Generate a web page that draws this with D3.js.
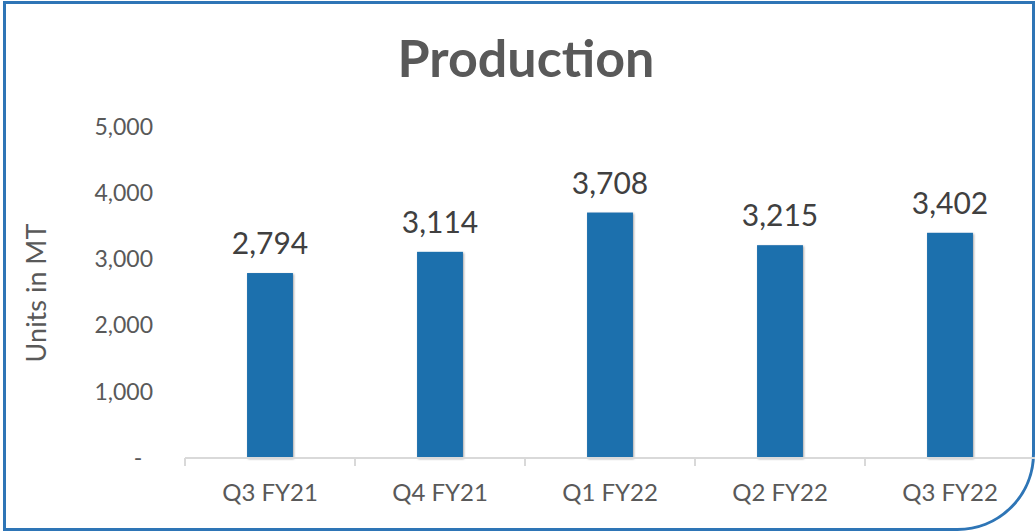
<!DOCTYPE html>
<html lang="en">
<head>
<meta charset="UTF-8">
<title>Production</title>
<script src="https://d3js.org/d3.v7.min.js"></script>
<style>
  body { margin: 0; background: #fff; }
  text { font-family: Lato, "Open Sans", sans-serif; }
</style>
</head>
<body>
<script>
    const width = 1036
    const height = 531
    const quarters = ['Q3 FY21', 'Q4 FY21', 'Q1 FY22', 'Q2 FY22', 'Q3 FY22']
    const production = [2794, 3114, 3708, 3215, 3402]
    const yTicks = [0, 1000, 2000, 3000, 4000, 5000]

    const svg = d3.select("body").append("svg")
        .attr("width", width)
        .attr("height", height)

    // soft shadow under the bars
    const defs = svg.append("defs")
    const f = defs.append("filter").attr("id", "shadow")
        .attr("x", "-20%").attr("y", "-20%").attr("width", "140%").attr("height", "140%")
    f.append("feDropShadow").attr("dx", 1).attr("dy", 1).attr("stdDeviation", 1.2)
        .attr("flood-color", "#000").attr("flood-opacity", 0.35)

    // frame with rounded bottom-right corner
    const r = 76
    svg.append("path")
        .attr("d", `M4.5,2.5 H1033.5 V${529.5 - r} A${r},${r} 0 0 1 ${1033.5 - r},529.5 H4.5 Z`)
        .attr("fill", "none")
        .attr("stroke", "#2e75b6")
        .attr("stroke-width", 3)

    const x = d3.scaleBand()
        .domain(quarters)
        .range([185, 1035])
        .paddingInner(0.73)
        .paddingOuter(0.365)
    const y = d3.scaleLinear()
        .domain([0, 5000])
        .range([458, 127])

    svg.append("text")
        .text("Production")
        .attr("x", 526)
        .attr("y", 77)
        .attr("text-anchor", "middle")
        .attr("font-size", 52)
        .attr("font-weight", "bold")
        .attr("fill", "#595959")

    svg.append("text")
        .text("Units in MT")
        .attr("transform", "translate(46,293) rotate(-90)")
        .attr("text-anchor", "middle")
        .attr("font-size", 27)
        .attr("fill", "#595959")

    // y axis labels only
    const yAxis = d3.axisLeft(y)
        .tickValues(yTicks)
        .tickSize(0)
        .tickPadding(0)
        .tickFormat(d => d === 0 ? "-" : d3.format(",")(d))
    const gy = svg.append("g").attr("transform", "translate(153,0)").call(yAxis)
    gy.select(".domain").remove()
    gy.selectAll("text")
        .attr("font-size", 23)
        .attr("fill", "#595959")
        .attr("font-family", "Lato, 'Open Sans', sans-serif")
    gy.selectAll(".tick").filter(d => d === 0).select("text")
        .attr("text-anchor", "middle").attr("dx", -15)

    // bars
    svg.append("g").selectAll("rect")
        .data(production)
        .join("rect")
        .attr("x", (d, i) => x(quarters[i]))
        .attr("y", d => y(d))
        .attr("width", x.bandwidth())
        .attr("height", d => y(0) - y(d))
        .attr("fill", "#1f6fad")
        .attr("filter", "url(#shadow)")

    // x axis
    const xAxis = d3.axisBottom(x).tickSize(0).tickPadding(26)
    const gx = svg.append("g").attr("transform", "translate(0,458)").call(xAxis)
    gx.select(".domain").attr("stroke", "#d9d9d9").attr("stroke-width", 2)
        .attr("d", "M185,0H1035")
    gx.selectAll("text")
        .attr("font-size", 24)
        .attr("fill", "#595959")
        .attr("font-family", "Lato, 'Open Sans', sans-serif")
    const bounds = quarters.map(q => x(q) - x.step() * x.paddingInner() / 2)
    gx.selectAll(".sep")
        .data(bounds)
        .join("line")
        .attr("class", "sep")
        .attr("x1", d => d).attr("x2", d => d)
        .attr("y1", 0).attr("y2", 8)
        .attr("stroke", "#d9d9d9")
        .attr("stroke-width", 2)

    // value labels
    svg.append("g").selectAll("text")
        .data(production)
        .join("text")
        .text(d => d3.format(",")(d))
        .attr("x", (d, i) => x(quarters[i]) + x.bandwidth() / 2)
        .attr("y", d => y(d) - 19)
        .attr("text-anchor", "middle")
        .attr("font-size", 30)
        .attr("fill", "#404040")
</script>
</body>
</html>
